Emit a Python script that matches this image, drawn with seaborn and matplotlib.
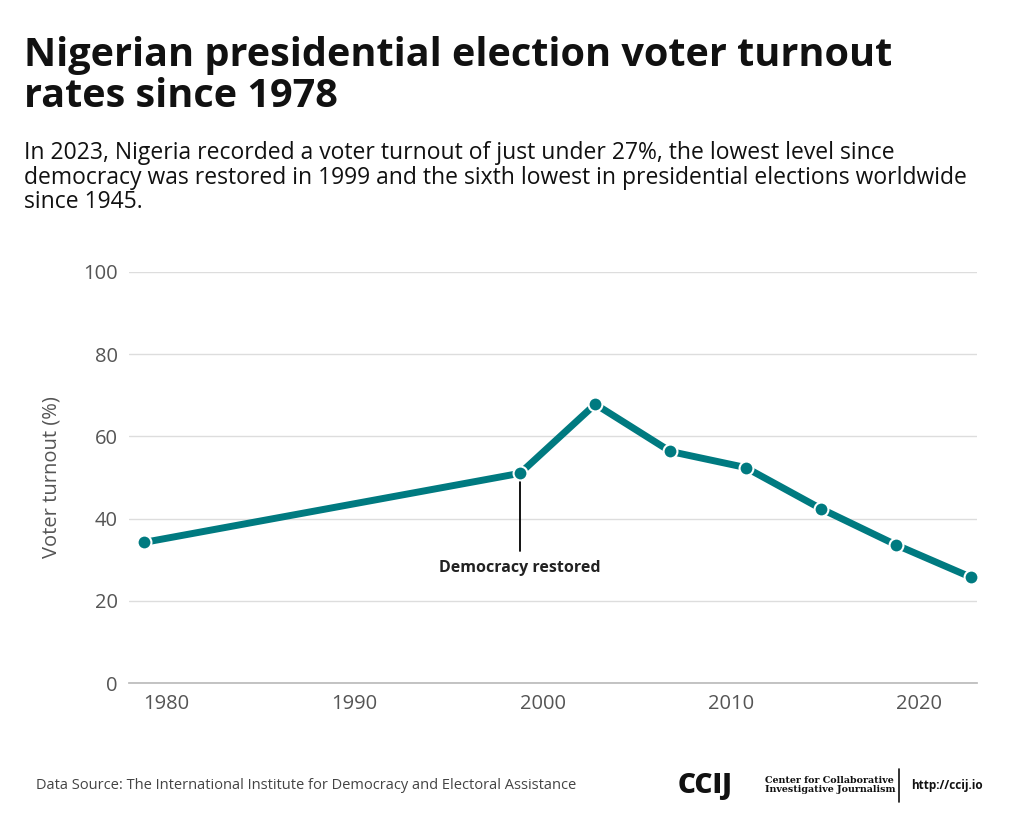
import matplotlib
matplotlib.use("Agg")
import matplotlib.pyplot as plt
import seaborn as sns
import pandas as pd

years = [1979, 1999, 2003, 2007, 2011, 2015, 2019, 2023]
turnout = [34.2, 51.0, 67.8, 56.3, 52.4, 42.4, 33.6, 25.7]
xticks = [1980, 1990, 2000, 2010, 2020]
yticks = [0, 20, 40, 60, 80, 100]

df = pd.DataFrame({"year": years, "turnout": turnout})
color = "#007a80"

sns.set_theme(style="white")
plt.rcParams['font.family'] = ['Open Sans', 'Noto Sans', 'DejaVu Sans']

fig = plt.figure(figsize=(10.24, 8.31), dpi=100)
ax = fig.add_axes([0.126, 0.178, 0.828, 0.495])
sns.lineplot(data=df, x="year", y="turnout", ax=ax, color=color, linewidth=5,
             marker="o", markersize=10, markeredgecolor="white", markeredgewidth=1.5)
ax.set_xlim(1978.2, 2023.3)
ax.set_ylim(0, 100)
shift = 0.2
ax.set_xticks([t + shift for t in xticks])
ax.set_xticklabels([str(t) for t in xticks])
ax.set_yticks(yticks)
ax.tick_params(labelsize=14.5, colors="#555555", length=0, pad=8)
ax.grid(axis="y", color="#dddddd", linewidth=1)
for s in ["top", "right", "left"]:
    ax.spines[s].set_visible(False)
ax.spines["bottom"].set_color("#bbbbbb")
ax.set_xlabel("")
ax.set_ylabel("Voter turnout (%)", fontsize=14.5, color="#555555", labelpad=16)
ax.set_axisbelow(True)

ax.plot([1999, 1999], [turnout[1] - 1, 32], color="black", linewidth=1.3, zorder=1)
ax.text(1999, 28, "Democracy restored", ha="center", va="center", fontsize=11.5,
        fontweight="bold", color="#222222")

fig.text(0.023, 0.957, "Nigerian presidential election voter turnout\nrates since 1978",
         fontsize=28.5, fontweight="bold", va="top", ha="left", linespacing=1.08, color="#111111")
fig.text(0.023, 0.83, "In 2023, Nigeria recorded a voter turnout of just under 27%, the lowest level since\n"
         "democracy was restored in 1999 and the sixth lowest in presidential elections worldwide\n"
         "since 1945.", fontsize=16.5, va="top", ha="left", color="#111111", linespacing=1.03)
fig.text(0.035, 0.055, "Data Source: The International Institute for Democracy and Electoral Assistance",
         fontsize=10.5, color="#444444", va="center")
fig.text(0.662, 0.055, "CCIJ", fontsize=20, fontweight="heavy", va="center", color="#111111")
fig.text(0.747, 0.055, "Center for Collaborative\nInvestigative Journalism", fontsize=6.8,
         va="center", color="#111111", family=["DejaVu Serif"], fontweight="bold", linespacing=1.0)
fig.add_artist(plt.Line2D([0.878, 0.878], [0.035, 0.075], color="#111111", linewidth=1.2))
fig.text(0.89, 0.055, "http://ccij.io", fontsize=8.5, fontweight="bold", va="center", color="#111111")

fig.savefig("out.png", dpi=100, facecolor="white")
